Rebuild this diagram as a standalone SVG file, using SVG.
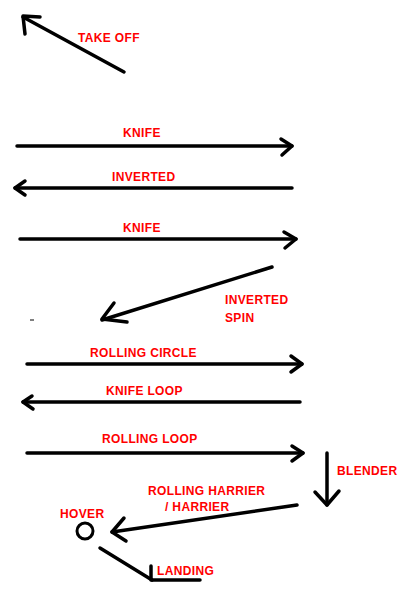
<svg xmlns="http://www.w3.org/2000/svg" width="402" height="597" viewBox="0 0 402 597">
<style>
.t{font-family:"Liberation Sans",Arial,sans-serif;font-weight:bold;font-size:12px;letter-spacing:0.35px;fill:#ff0000}
.l{stroke:#000;stroke-width:3.5;fill:none;stroke-linecap:round;stroke-linejoin:round}
</style>
<rect width="402" height="597" fill="#fff"/>
<g id="connectors">
<g id="takeoff-arrow"><path class="l" d="M124,72 L23,17"/><path class="l" d="M40,17 L23,16 L25,34"/></g>
<g id="knife1-arrow"><path class="l" d="M17,146 L292,146"/><path class="l" d="M281,139 L292,146 L282,155"/></g>
<g id="inverted-arrow"><path class="l" d="M292,188 L15,188"/><path class="l" d="M25,181 L15,188 L25,195"/></g>
<g id="knife2-arrow"><path class="l" d="M20,239 L296,239"/><path class="l" d="M284,232 L296,239 L285,248"/></g>
<g id="spin-arrow"><path class="l" d="M272,267 L102,320"/><path class="l" d="M114,303 L102,319 L127,322"/></g>
<path d="M30,320 L34,320" stroke="#000" stroke-width="1"/>
<g id="rcircle-arrow"><path class="l" d="M27,364 L302,364"/><path class="l" d="M291,356 L302,364 L291,372"/></g>
<g id="kloop-arrow"><path class="l" d="M300,402 L23,402"/><path class="l" d="M32,396 L23,402 L33,409"/></g>
<g id="rloop-arrow"><path class="l" d="M27,453 L303,453"/><path class="l" d="M292,446 L303,453 L292,461"/></g>
<g id="blender-arrow"><path class="l" d="M327,453 L327,505"/><path class="l" d="M315,492 L327,505 L339,491"/></g>
<g id="harrier-arrow"><path class="l" d="M297,505 L112,532"/><path class="l" d="M124,518 L112,532 L126,541"/></g>
<g id="landing-arrow"><path class="l" d="M100,548 L152,580"/><path class="l" d="M151,566 L151,580 L200,580"/></g>
</g>
<g id="takeoff"><text class="t" x="78" y="42">TAKE OFF</text></g>
<g id="knife1"><text class="t" x="123" y="137">KNIFE</text></g>
<g id="inverted"><text class="t" x="112" y="181">INVERTED</text></g>
<g id="knife2"><text class="t" x="123" y="232">KNIFE</text></g>
<g id="invspin"><text class="t" x="225" y="304">INVERTED</text><text class="t" x="225" y="322">SPIN</text></g>
<g id="rcircle"><text class="t" x="90" y="357">ROLLING CIRCLE</text></g>
<g id="kloop"><text class="t" x="106" y="395">KNIFE LOOP</text></g>
<g id="rloop"><text class="t" x="102" y="443">ROLLING LOOP</text></g>
<g id="blender"><text class="t" x="337" y="475">BLENDER</text></g>
<g id="harrier"><text class="t" x="148" y="495">ROLLING HARRIER</text><text class="t" x="165" y="511">/ HARRIER</text></g>
<g id="hover"><text class="t" x="60" y="518">HOVER</text><circle cx="85" cy="531" r="8" fill="none" stroke="#000" stroke-width="3"/></g>
<g id="landing"><text class="t" x="157" y="575">LANDING</text></g>
</svg>
